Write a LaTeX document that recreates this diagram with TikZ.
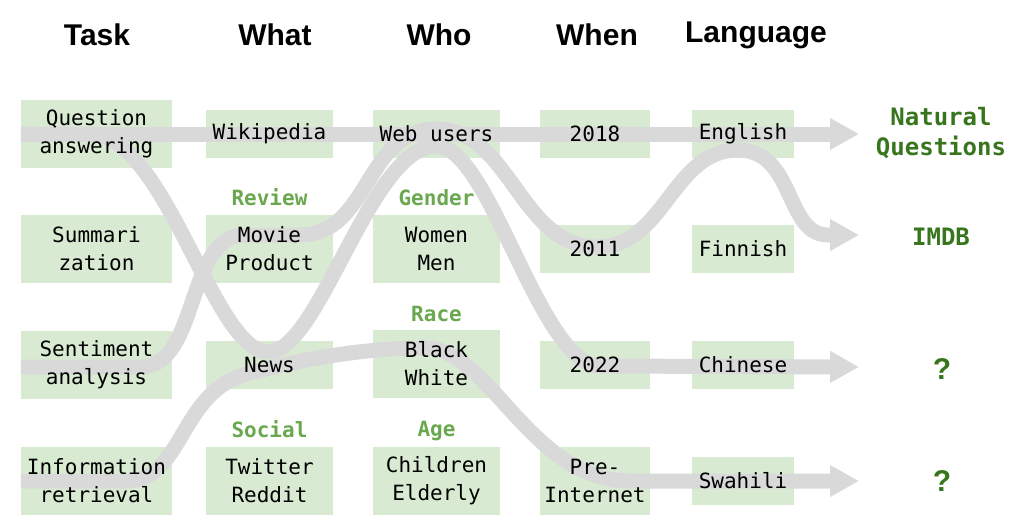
\documentclass[tikz,border=0pt]{standalone}
\usepackage{fontspec}
\setmonofont{DejaVu Sans Mono}
\newfontfamily\headfont{Liberation Sans}
\usetikzlibrary{arrows.meta, positioning}
\definecolor{cellgreen}{HTML}{D9EAD3}
\definecolor{flowgray}{HTML}{D9D9D9}
\definecolor{taggreen}{HTML}{6AA84F}
\definecolor{setgreen}{HTML}{38761D}
\pgfdeclarelayer{cells}
\pgfdeclarelayer{flows}
\pgfsetlayers{cells,flows,main}

\begin{document}
\begin{tikzpicture}[
    x=1pt, y=-1pt,
    cell/.style={minimum height=47pt, inner sep=0pt, align=center,
                 font=\ttfamily\fontsize{21}{28}\selectfont},
    tall/.style={minimum height=68pt},
    taskbox/.style={cell, minimum width=151pt},
    midbox/.style={cell, minimum width=127pt},
    whenbox/.style={cell, minimum width=110pt},
    langbox/.style={cell, minimum width=102pt},
    head/.style={anchor=base, inner sep=0pt,
                 font=\headfont\bfseries\fontsize{30}{36}\selectfont},
    tag/.style={anchor=base, inner sep=0pt, text=taggreen,
                font=\ttfamily\bfseries\fontsize{21}{28}\selectfont},
    dataset/.style={inner sep=0pt, align=center, text=setgreen,
                    font=\ttfamily\bfseries\fontsize{24}{30}\selectfont},
    unknown/.style={inner sep=0pt, text=setgreen,
                    font=\headfont\bfseries\fontsize{30}{36}\selectfont},
    flow/.style={draw=flowgray, line width=15pt},
    flowtip/.style={flow, -{Triangle[length=29pt, width=30pt]}}
  ]
  \useasboundingbox (0,0) rectangle (1029,527);

  % column headers
  \node[head] (htask) at (97,46) {Task};
  \node[head] (hwhat) at (275,46) {What};
  \node[head] (hwho) at (439,46) {Who};
  \node[head] (hwhen) at (597,46) {When};
  \node[head] (hlang) at (756,43) {Language};

  % task
  \node[taskbox, tall] (qa) at (96.5,134) {Question\\answering};
  \node[taskbox, tall] (summ) at (96.5,249) {Summari\\zation};
  \node[taskbox, tall] (sent) at (96.5,365) {Sentiment\\analysis};
  \node[taskbox, tall] (ir) at (96.5,481) {Information\\retrieval};

  % what
  \node[midbox] (wiki) at (269.5,134) {Wikipedia};
  \node[midbox, tall] (movie) at (269.5,249) {Movie\\Product};
  \node[midbox] (news) at (269.5,365) {News};
  \node[midbox, tall] (social) at (269.5,481) {Twitter\\Reddit};
  \node[above=9pt of movie, tag] (review) {Review};
  \node[above=9pt of social, tag] (socialtag) {Social};

  % who
  \node[midbox] (web) at (436.5,134) {Web users};
  \node[midbox, tall] (gender) at (436.5,249) {Women\\Men};
  \node[midbox, tall] (race) at (436.5,364) {Black\\White};
  \node[midbox, tall] (age) at (436.5,481) {Children\\Elderly};
  \node[above=9pt of gender, tag] (gendertag) {Gender};
  \node[above=8pt of race, tag] (racetag) {Race};
  \node[above=10pt of age, tag] (agetag) {Age};

  % when
  \node[whenbox] (y18) at (595,134) {2018};
  \node[whenbox] (y11) at (595,249) {2011};
  \node[whenbox] (y22) at (595,365) {2022};
  \node[whenbox, tall] (pre) at (595,481) {Pre-\\Internet};

  % language
  \node[langbox] (eng) at (743,134) {English};
  \node[langbox] (fin) at (743,249) {Finnish};
  \node[langbox] (chi) at (743,365) {Chinese};
  \node[langbox] (swa) at (743,481) {Swahili};

  % datasets
  \node[dataset, anchor=base] (nq) at (941,155) {Natural\\Questions};
  \node[dataset] (imdb) at (941,237) {IMDB};
  \node[unknown] (unk1) at (942,369) {?};
  \node[unknown] (unk2) at (942,481) {?};
  \coordinate (nqtip) at (859,134);
  \coordinate (imdbtip) at (859,235);
  \coordinate (unk1tip) at (859,367);
  \coordinate (unk2tip) at (859,481);

  \begin{pgfonlayer}{cells}
    \foreach \c in {qa,summ,sent,ir,wiki,movie,news,social,web,gender,
                    race,age,y18,y11,y22,pre,eng,fin,chi,swa}
      \fill[cellgreen] (\c.south west) rectangle (\c.north east);
  \end{pgfonlayer}

  \begin{pgfonlayer}{flows}
    % natural questions
    \draw[flowtip] (qa.west) -- (nqtip);
    % imdb
    \draw[flowtip] ([yshift=-2pt]sent.west) -- (140,367)
      .. controls (200,367) and (185,235) .. (245,235) -- (300,235)
      .. controls (370,235) and (365,129) .. (436.5,129)
      .. controls (510,129) and (520,247) .. (597,247)
      .. controls (665,247) and (672,150) .. (738,150)
      .. controls (795,150) and (785,235) .. (828,235) -- (imdbtip);
    % chinese
    \draw[flowtip] (qa.west) -- (97,134)
      .. controls (170,150) and (215,352) .. (268,352)
      .. controls (320,352) and (370,146) .. (436.5,146)
      .. controls (490,146) and (540,366) .. (600,366) -- (unk1tip);
    % swahili
    \draw[flowtip] (ir.west) -- (125,481)
      .. controls (185,481) and (178,390) .. (250,373)
      .. controls (300,360) and (360,348) .. (425,348)
      .. controls (490,348) and (530,481) .. (630,481) -- (unk2tip);
  \end{pgfonlayer}
\end{tikzpicture}
\end{document}
